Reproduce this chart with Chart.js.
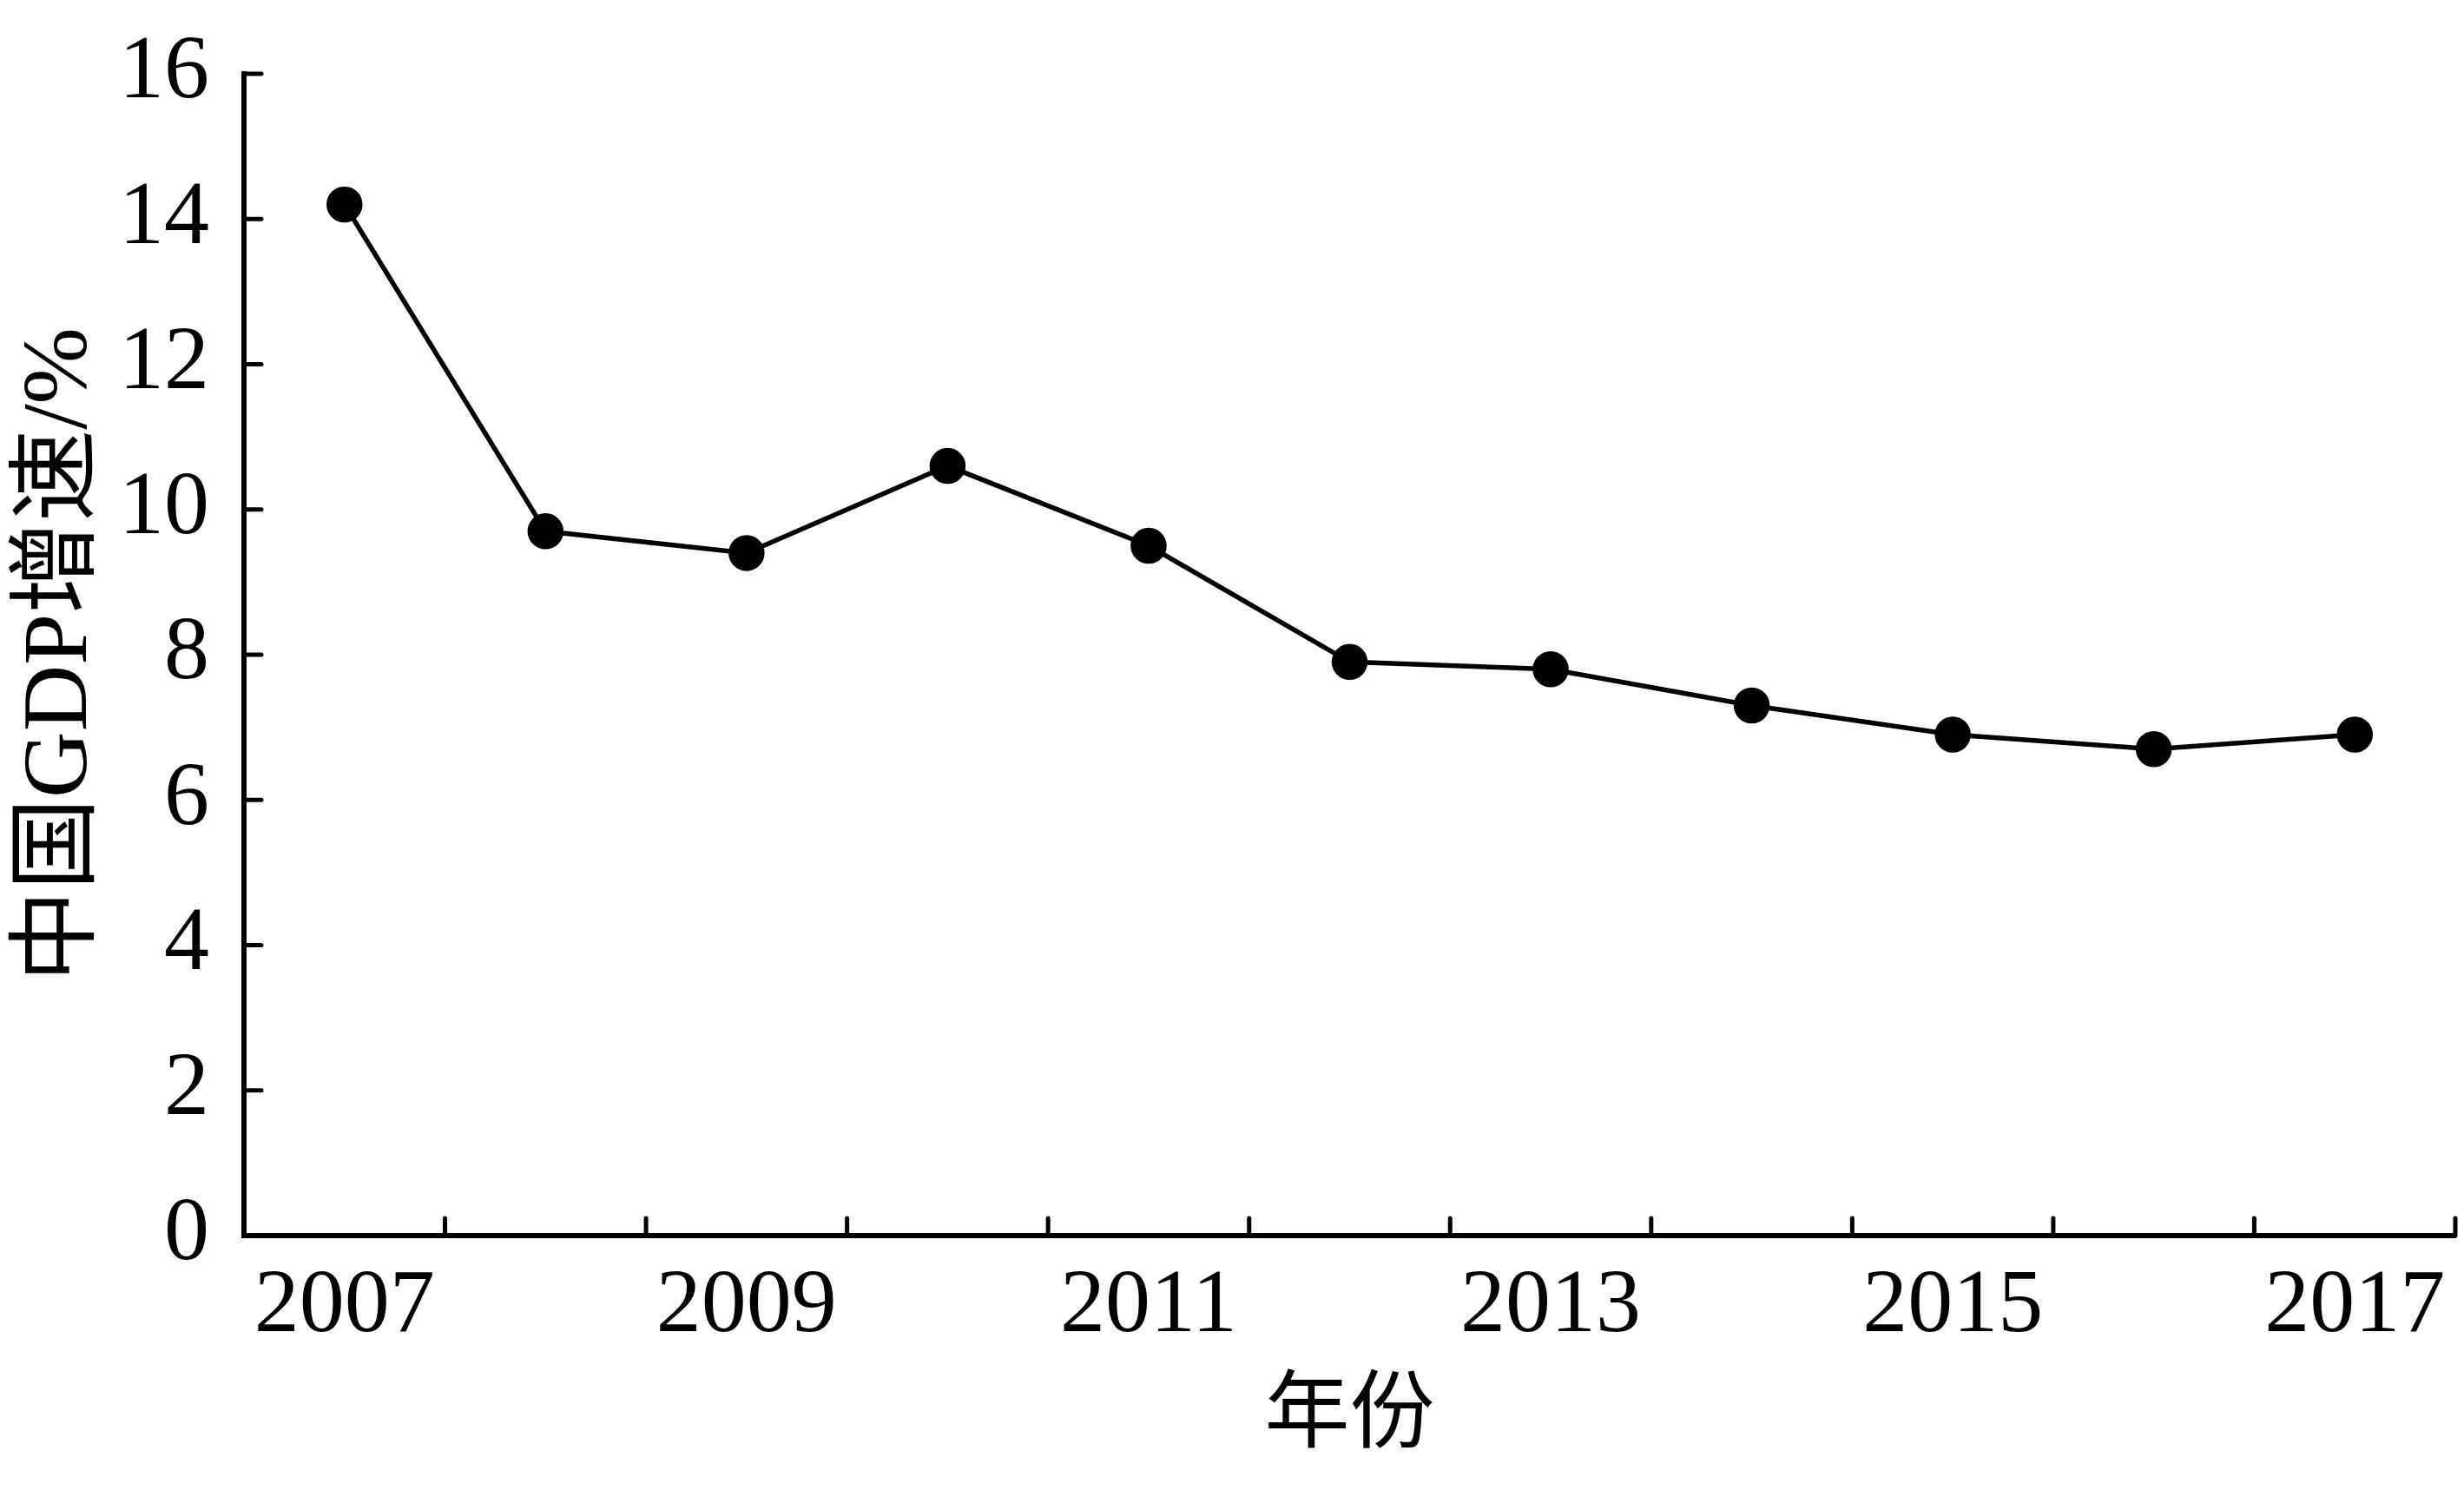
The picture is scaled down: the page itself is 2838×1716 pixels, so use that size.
<!DOCTYPE html>
<html lang="zh">
<head>
<meta charset="UTF-8">
<title>中国GDP增速</title>
<script src="https://cdn.jsdelivr.net/npm/chart.js"></script>
<style>
  html, body { margin: 0; padding: 0; background: #fff; }
  #wrap { width: 2838px; height: 1716px; }
</style>
</head>
<body>
<div id="wrap"><canvas id="gdp" width="2838" height="1716"></canvas></div>
<script>
// 数据
const years = ['2007', '2008', '2009', '2010', '2011', '2012', '2013', '2014', '2015', '2016', '2017'];
const growth = [14.2, 9.7, 9.4, 10.6, 9.5, 7.9, 7.8, 7.3, 6.9, 6.7, 6.9];
const yTicks = [0, 2, 4, 6, 8, 10, 12, 14, 16];

const serif = '"Liberation Serif", "Times New Roman", "Noto Sans CJK SC", serif';

// 坐标轴内侧刻度线
const innerTicks = {
  id: 'innerTicks',
  afterDraw(chart) {
    const { ctx, chartArea, scales } = chart;
    const len = 20;
    ctx.save();
    ctx.strokeStyle = '#000';
    ctx.lineWidth = 5;
    ctx.lineCap = 'round';
    const step = (chartArea.right - chartArea.left) / years.length;
    for (let k = 1; k <= years.length; k++) {
      const x = scales.x.getPixelForValue(k - 1) + step / 2;
      ctx.beginPath();
      ctx.moveTo(x, chartArea.bottom);
      ctx.lineTo(x, chartArea.bottom - len);
      ctx.stroke();
    }
    yTicks.forEach(v => {
      const y = scales.y.getPixelForValue(v);
      ctx.beginPath();
      ctx.moveTo(chartArea.left, y);
      ctx.lineTo(chartArea.left + len, y);
      ctx.stroke();
    });
    ctx.restore();
  }
};

function noPadding(scale) {
  scale.paddingLeft = 0;
  scale.paddingRight = 0;
  scale.paddingTop = 0;
  scale.paddingBottom = 0;
}

new Chart(document.getElementById('gdp'), {
  type: 'line',
  data: {
    labels: years,
    datasets: [{
      data: growth,
      borderColor: '#000',
      borderWidth: 5.5,
      pointBackgroundColor: '#000',
      pointBorderColor: '#000',
      pointRadius: 18,
      tension: 0
    }]
  },
  options: {
    responsive: false,
    animation: false,
    layout: { autoPadding: false, padding: { top: 85, right: 10, left: 0, bottom: 0 } },
    plugins: { legend: { display: false }, tooltip: { enabled: false } },
    scales: {
      x: {
        offset: true,
        grid: { display: false, drawTicks: false },
        border: { display: true, color: '#000', width: 6 },
        afterFit(scale) {
          scale.height = 293;
          noPadding(scale);
        },
        ticks: {
          autoSkip: false,
          maxRotation: 0,
          padding: 20,
          color: '#000',
          font: { family: serif, size: 104 },
          callback(value, index) { return index % 2 === 0 ? years[index] : ''; }
        },
        title: {
          display: true,
          text: '年份',
          color: '#000',
          font: { family: serif, size: 98 },
          padding: { top: 0, bottom: 24 }
        }
      },
      y: {
        min: 0,
        max: 16,
        grid: { display: false, drawTicks: false },
        border: { display: true, color: '#000', width: 6 },
        afterFit(scale) {
          scale.width = 281;
          noPadding(scale);
        },
        afterBuildTicks(scale) { scale.ticks = yTicks.map(v => ({ value: v })); },
        ticks: {
          padding: 40,
          color: '#000',
          font: { family: serif, size: 104 }
        },
        title: {
          display: true,
          text: '中国GDP增速/%',
          color: '#000',
          font: { family: serif, size: 106 },
          padding: { top: 8, bottom: 0 }
        }
      }
    }
  },
  plugins: [innerTicks]
});
</script>
</body>
</html>
